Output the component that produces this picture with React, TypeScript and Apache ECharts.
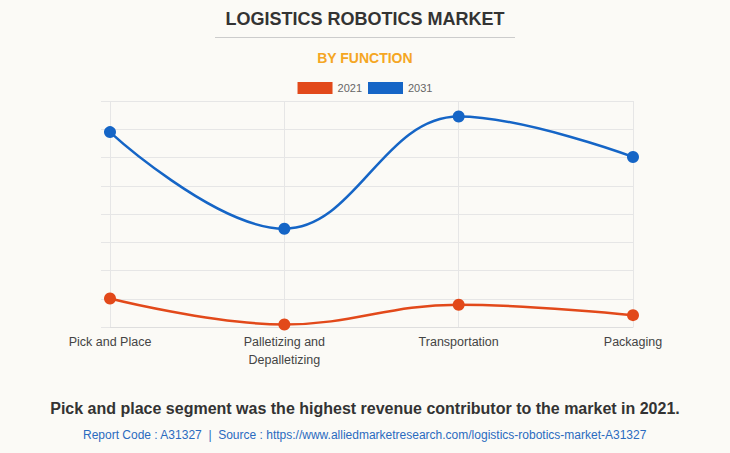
import React, { useEffect, useRef } from "react";
import * as echarts from "echarts";

const categories = ["Pick and Place", "Palletizing and\nDepalletizing", "Transportation", "Packaging"];
const series2021 = [1.01, 0.09, 0.79, 0.42];
const series2031 = [6.9, 3.48, 7.45, 6.02];
const legendNames = ["2021", "2031"];

const FONT = "Arial, 'Liberation Sans', sans-serif";

export default function App() {
  const ref = useRef<HTMLDivElement>(null);
  useEffect(() => {
    const chart = echarts.init(ref.current!, null, { renderer: "svg" });
    chart.setOption({
      animation: false,
      backgroundColor: "#fbfaf6",
      textStyle: { fontFamily: FONT },
      legend: {
        data: legendNames,
        top: 77,
        left: "center",
        icon: "rect",
        itemWidth: 35,
        itemHeight: 12,
        itemGap: 6,
        textStyle: { fontSize: 11, color: "#666", fontFamily: FONT },
        selectedMode: false,
      },
      grid: { left: 110, right: 97, top: 101, bottom: 126, containLabel: false },
      xAxis: {
        type: "category",
        data: categories,
        boundaryGap: false,
        axisLine: { lineStyle: { color: "#dedede" } },
        axisTick: { show: false },
        splitLine: { show: true, lineStyle: { color: "#e6e6e6" } },
        axisLabel: { color: "#444", fontSize: 12.5, margin: 6, lineHeight: 18, fontFamily: FONT },
      },
      yAxis: {
        type: "value",
        min: 0,
        max: 8,
        interval: 1,
        axisLine: { show: false },
        axisLabel: { show: false },
        axisTick: { show: true, length: 9, lineStyle: { color: "#e6e6e6" } },
        splitLine: { show: true, lineStyle: { color: "#e6e6e6" } },
      },
      series: [
        {
          name: "2021",
          type: "line",
          data: series2021,
          smooth: 0.4,
          symbol: "circle",
          symbolSize: 12,
          color: "#e2491a",
          lineStyle: { width: 2.5, color: "#e2491a" },
        },
        {
          name: "2031",
          type: "line",
          data: series2031,
          smooth: 0.4,
          symbol: "circle",
          symbolSize: 12,
          color: "#1565c6",
          lineStyle: { width: 2.5, color: "#1565c6" },
        },
      ],
      graphic: [
        {
          type: "text",
          left: "center",
          top: 10,
          style: { text: "LOGISTICS ROBOTICS MARKET", font: `bold 18px ${FONT}`, fill: "#333" },
        },
        {
          type: "line",
          shape: { x1: 215, y1: 37.5, x2: 515, y2: 37.5 },
          style: { stroke: "#cccccc", lineWidth: 1 },
        },
        {
          type: "text",
          left: "center",
          top: 51,
          style: { text: "BY FUNCTION", font: `bold 14px ${FONT}`, fill: "#f5a623" },
        },
        {
          type: "text",
          left: "center",
          top: 400,
          style: {
            text: "Pick and place segment was the highest revenue contributor to the market in 2021.",
            font: `bold 16px ${FONT}`,
            fill: "#333",
          },
        },
        {
          type: "text",
          left: "center",
          top: 429,
          style: {
            text: "Report Code : A31327  |  Source : https://www.alliedmarketresearch.com/logistics-robotics-market-A31327",
            font: `12px ${FONT}`,
            fill: "#2a6bbf",
          },
        },
      ],
    });
    return () => chart.dispose();
  }, []);
  return <div ref={ref} style={{ position: "fixed", left: 0, top: 0, width: 730, height: 453 }} />;
}
